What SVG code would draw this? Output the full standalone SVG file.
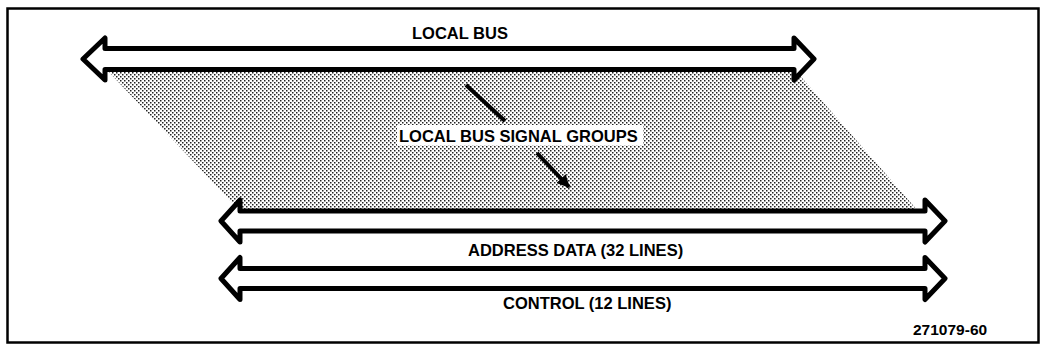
<svg xmlns="http://www.w3.org/2000/svg" width="1040" height="351" viewBox="0 0 1040 351">
<style>
.frame{fill:none;stroke:#000;stroke-width:2.5}
.bus{fill:#fff;stroke:#000;stroke-width:5;stroke-linejoin:round}
.lbl{font-family:"Liberation Sans",Arial,Helvetica,sans-serif;font-weight:bold;font-size:16.5px;fill:#000}
.ptr{stroke:#000;stroke-width:4;fill:none}
</style>
<defs>
<pattern id="dots" width="4" height="4" patternUnits="userSpaceOnUse">
<rect x="0" y="0" width="4" height="4" fill="#fff"/>
<rect x="0" y="0" width="1.5" height="1.5" fill="#222"/>
<rect x="2" y="2" width="1.5" height="1.5" fill="#222"/>
</pattern>
<marker id="ah" viewBox="0 0 10 10" refX="9" refY="5" markerWidth="3.2" markerHeight="3.2" orient="auto" markerUnits="strokeWidth">
<path d="M0,0 L10,5 L0,10 Z" fill="#000"/>
</marker>
</defs>
<rect class="frame" x="7.5" y="8.5" width="1031" height="334"/>
<g id="signal-groups-area">
<polygon points="107,70 795,70 918,211 240,211" fill="url(#dots)"/>
</g>
<g id="local-bus">
<path class="bus" d="M83,59 L105,38 L105,48.5 L794,48.5 L794,38 L814,59 L794,80 L794,69.5 L105,69.5 L105,80 Z"/>
<text class="lbl" x="412" y="39">LOCAL BUS</text>
</g>
<g id="address-data">
<path class="bus" d="M221,221 L240,200 L240,211 L925,211 L925,200 L945,221 L925,242 L925,231 L240,231 L240,242 Z"/>
<text class="lbl" x="468" y="256">ADDRESS DATA (32 LINES)</text>
</g>
<g id="control">
<path class="bus" d="M221,278.5 L240,257.5 L240,268.5 L925,268.5 L925,257.5 L945,278.5 L925,299.5 L925,288.5 L240,288.5 L240,299.5 Z"/>
<text class="lbl" x="503" y="309">CONTROL (12 LINES)</text>
</g>
<g id="connectors">
<line class="ptr" x1="466" y1="85" x2="505" y2="121"/>
<line class="ptr" x1="537" y1="153" x2="569" y2="187" marker-end="url(#ah)"/>
</g>
<g id="signal-groups-label">
<rect x="397" y="125" width="246" height="20.5" fill="#fff"/>
<text class="lbl" x="399" y="142">LOCAL BUS SIGNAL GROUPS</text>
</g>
<text class="lbl" x="913" y="335" style="font-size:15.5px">271079-60</text>
</svg>
